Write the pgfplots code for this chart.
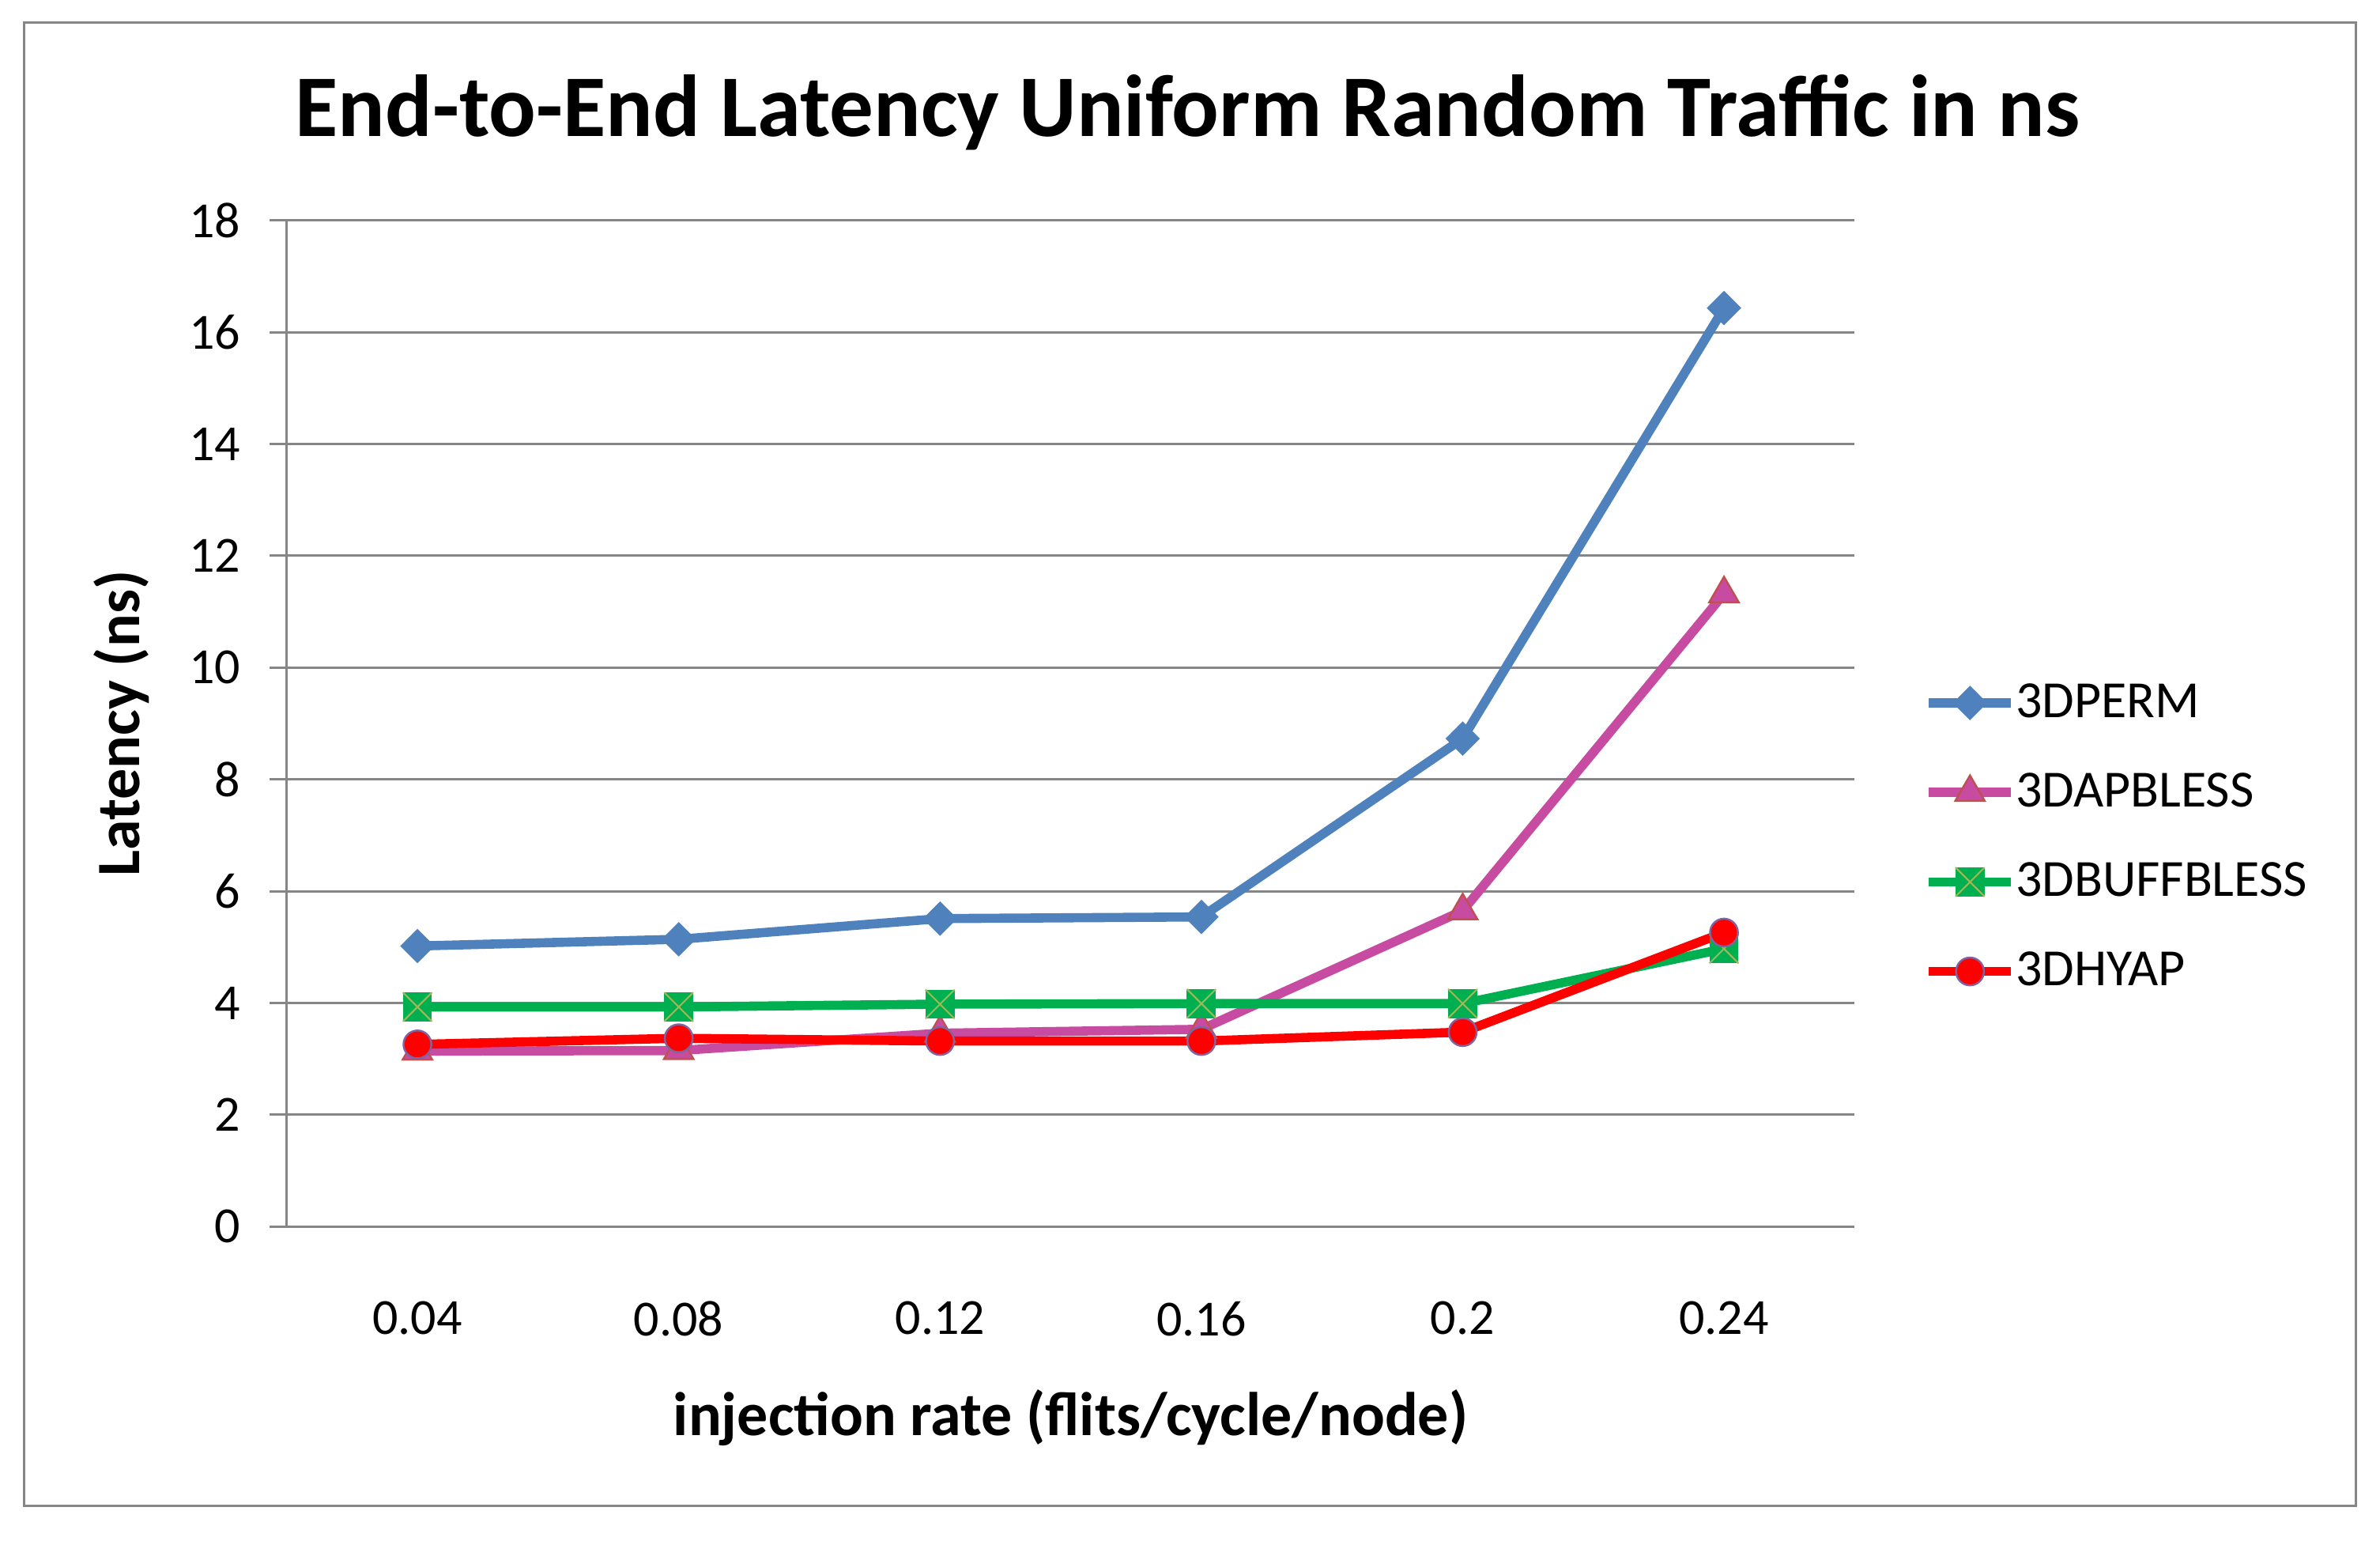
\documentclass[border=0pt]{standalone}
\usepackage{pgfplots}
\pgfplotsset{compat=1.18}
\usepackage{fontspec}
\setmainfont{Carlito}
\definecolor{axgray}{HTML}{868686}
\definecolor{cblue}{HTML}{4F81BD}
\definecolor{cpink}{RGB}{200,75,162}
\definecolor{cpinkedge}{HTML}{C0504D}
\definecolor{cgreen}{HTML}{00B050}
\definecolor{cgreenx}{HTML}{9BBB59}
\definecolor{cred}{HTML}{FF0000}
\definecolor{credge}{HTML}{8064A2}
\pgfdeclareplotmark{sqx}{%
  \pgfpathrectangle{\pgfqpoint{-\pgfplotmarksize}{-\pgfplotmarksize}}{\pgfqpoint{2\pgfplotmarksize}{2\pgfplotmarksize}}%
  \pgfusepathqfill
  \pgfsetstrokecolor{cgreenx}%
  \pgfsetlinewidth{0.5pt}%
  \pgfpathmoveto{\pgfqpoint{-\pgfplotmarksize}{-\pgfplotmarksize}}%
  \pgfpathlineto{\pgfqpoint{\pgfplotmarksize}{\pgfplotmarksize}}%
  \pgfpathmoveto{\pgfqpoint{-\pgfplotmarksize}{\pgfplotmarksize}}%
  \pgfpathlineto{\pgfqpoint{\pgfplotmarksize}{-\pgfplotmarksize}}%
  \pgfusepathqstroke
}
\begin{document}
\begin{tikzpicture}
\useasboundingbox (0,0) rectangle (752.75pt,488.25pt);
\draw[axgray, line width=0.75pt] (7.7pt,12.2pt) rectangle (745pt,481pt);
\node[font=\fontsize{27.8}{33}\selectfont\bfseries, anchor=base] at (375.6pt,445pt) {End-to-End Latency Uniform Random Traffic in ns};
\begin{axis}[
  at={(90.7pt,100.4pt)}, anchor=south west,
  scale only axis, width=495.9pt, height=318.2pt,
  xmin=0.5, xmax=6.5, ymin=0, ymax=18,
  xtick={1,2,3,4,5,6},
  xticklabels={0.04,0.08,0.12,0.16,0.2,0.24},
  ytick={0,2,...,18},
  /pgf/number format/assume math mode=true,
  axis x line*=bottom, axis y line*=left,
  axis line style={draw=axgray, line width=0.75pt, -},
  ymajorgrids, grid style={draw=axgray, line width=0.75pt},
  tick align=outside, major tick length=5.5pt,
  ytick style={draw=axgray, line width=0.75pt},
  xtick style={draw=none},
  ticklabel style={font=\fontsize{16}{19}\selectfont},
  yticklabel style={inner sep=0pt, xshift=-9pt},
  xticklabel style={inner sep=0pt, yshift=-18pt},
  xlabel={injection rate (flits/cycle/node)},
  ylabel={Latency (ns)},
  label style={font=\fontsize{19.5}{23}\selectfont\bfseries},
  xlabel style={at={(axis description cs:0.5,-0.19)}, anchor=center},
  ylabel style={at={(axis description cs:-0.1055,0.5)}, anchor=center},
  legend style={draw=none, fill=none, at={(axis description cs:1.044,0.387)}, anchor=west,
    font=\fontsize{16.5}{19}\selectfont, row sep=13.3pt, inner sep=0pt,
    nodes={inner sep=0pt, text height=12pt, text depth=3pt}},
  legend cell align=left,
  legend image code/.code={\draw[mark repeat=2, mark phase=2, #1] plot coordinates {(0pt,0pt) (13pt,0pt) (26pt,0pt)}; \hspace{3pt}},
  every axis plot/.append style={line width=2.9pt},
]
\addplot[cblue, mark=square*, mark size=3.6pt, mark options={rotate=45, solid, line width=0.5pt}] coordinates {
  (1,5.02) (2,5.14) (3,5.51) (4,5.54) (5,8.73) (6,16.43)};
\addlegendentry{3DPERM}
\addplot[cpink, mark=triangle*, mark size=5.4pt, mark options={fill=cpink, draw=cpinkedge, line width=0.6pt}] coordinates {
  (1,3.14) (2,3.15) (3,3.46) (4,3.53) (5,5.65) (6,11.32)};
\addlegendentry{3DAPBLESS}
\addplot[cgreen, mark=sqx, mark size=4.6pt, mark options={fill=cgreen}] coordinates {
  (1,3.93) (2,3.93) (3,3.98) (4,3.99) (5,3.99) (6,4.97)};
\addlegendentry{3DBUFFBLESS}
\addplot[cred, mark=*, mark size=4.4pt, mark options={fill=cred, draw=credge, line width=0.6pt}] coordinates {
  (1,3.26) (2,3.37) (3,3.32) (4,3.32) (5,3.48) (6,5.26)};
\addlegendentry{3DHYAP}
\end{axis}
\end{tikzpicture}
\end{document}
